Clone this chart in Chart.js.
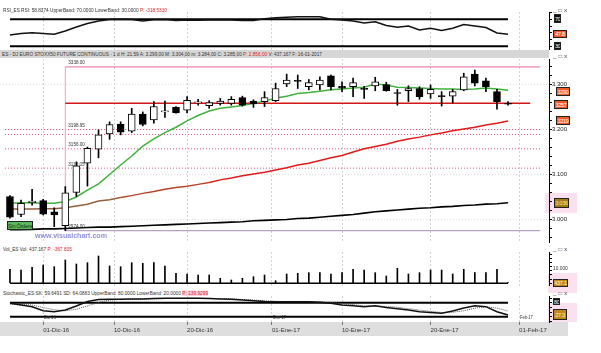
<!DOCTYPE html>
<html>
<head>
<meta charset="utf-8">
<script src="https://cdn.jsdelivr.net/npm/chart.js@4.4.1/dist/chart.umd.min.js"></script>
<style>
body { margin: 0; background: #fff; width: 601px; height: 353px; overflow: hidden; position: relative; font-family: "Liberation Sans", Arial, sans-serif; }
canvas { position: absolute; left: 0; }
.t { position: absolute; white-space: nowrap; font-size: 10px; line-height: 10px; transform-origin: 0 0; color: #333; }
.tag { position: absolute; border: 2px solid #222; box-sizing: border-box; font-size: 11px; text-align: center; transform: scale(0.5); transform-origin: 0 0; overflow: hidden; white-space: nowrap; letter-spacing: -0.5px; }
.band { position: absolute; }
.red { color: #e02020; }
</style>
</head>
<body>
<script>
// trading days shown on the chart
const dates = ['28-11-16','29-11-16','30-11-16','01-12-16','02-12-16','05-12-16','06-12-16','07-12-16','08-12-16','09-12-16',
  '12-12-16','13-12-16','14-12-16','15-12-16','16-12-16','19-12-16','20-12-16','21-12-16','22-12-16','23-12-16',
  '27-12-16','28-12-16','29-12-16','30-12-16','02-01-17','03-01-17','04-01-17','05-01-17','06-01-17','09-01-17',
  '10-01-17','11-01-17','12-01-17','13-01-17','16-01-17','17-01-17','18-01-17','19-01-17','20-01-17','23-01-17',
  '24-01-17','25-01-17','26-01-17','27-01-17','30-01-17','31-01-17'];

const openP  = [3050,3010,3036,3041,3016,2985,3059,3124,3155,3189,3211,3195,3233,3220,3238,3248,3242,3258,3252,3257,
  3257,3270,3262,3261,3263,3300,3308,3294,3298,3318,3295,3294,3289,3296,3299,3280,3285,3290,3278,3273,3273,3287,3322,3307,3283,3257];
const highP  = [3052,3042,3066,3044,3025,3072,3127,3160,3198,3216,3216,3246,3238,3261,3262,3250,3272,3266,3263,3268,
  3272,3273,3265,3283,3302,3322,3320,3310,3316,3320,3305,3313,3295,3315,3304,3288,3296,3294,3298,3283,3288,3324,3331,3313,3288,3261];
const lowP   = [3002,3005,3031,3009,2983,2974,3050,3073,3136,3177,3187,3192,3207,3213,3226,3235,3236,3253,3246,3253,
  3253,3251,3248,3250,3261,3294,3290,3287,3287,3287,3283,3272,3268,3285,3284,3253,3261,3266,3268,3251,3258,3285,3296,3283,3244,3253];
const closeP = [3004,3035,3040,3011,3009,3058,3118,3157,3187,3210,3193,3233,3210,3250,3240,3236,3264,3260,3259,3262,
  3266,3253,3256,3270,3290,3309,3306,3303,3309,3294,3291,3303,3288,3305,3285,3279,3290,3272,3288,3272,3283,3316,3302,3294,3261,3255];

const maShort = [3035,3036,3036,3035,3035,3039,3049,3064,3078,3099,3120,3140,3162,3178,3192,3204,3218,3230,3240,3246,
  3249,3252,3257,3262,3269,3273,3279,3281,3284,3287,3289,3291,3293,3300,3298,3293,3292,3291,3290,3289,3289,3288,3289,3291,3289,3286];
const maMid = [3022,3022,3022,3023,3023,3025,3029,3033,3040,3043,3048,3052,3057,3061,3066,3070,3073,3077,3081,3087,
  3091,3096,3100,3104,3109,3114,3120,3124,3130,3136,3141,3149,3156,3161,3166,3173,3178,3182,3187,3191,3196,3200,3204,3209,3213,3218];
const maLong = [2976,2976,2977,2978,2978,2979,2980,2981,2982,2982,2983,2984,2985,2986,2987,2988,2989,2990,2991,2992,
  2993,2994,2996,2997,2998,2999,3001,3002,3004,3006,3008,3010,3013,3016,3018,3020,3022,3024,3025,3027,3028,3030,3031,3033,3034,3036];

const volume = [838000,796000,958000,1096000,994000,1395000,1156000,1234000,1635000,1036000,994000,1234000,1198000,1234000,1036000,
  599000,557000,497000,497000,299000,198000,299000,395000,497000,156000,557000,599000,635000,635000,557000,
  635000,838000,796000,635000,437167,898000,557000,635000,796000,796000,557000,838000,635000,635000,838000,40000];

const rsi = [46.7,49.0,50.1,49.0,47.8,52.7,58.6,63.8,67.5,69.7,70.0,69.6,67.5,69.3,69.7,68.2,69.0,68.7,69.0,69.0,
  69.0,68.2,68.2,70.7,72.4,73.0,73.7,73.9,73.7,70.0,69.0,67.5,64.5,66.4,60.8,58.1,60.1,54.1,56.7,53.4,56.7,62.3,60.1,57.9,49.7,47.8];

const stochK = [77.4,70.1,62.9,45.7,41.4,48.7,65.9,85.1,93.7,94.6,95.0,95.9,95.9,98.0,98.9,98.9,98.9,98.9,98.0,95.9,
  94.6,91.6,88.1,85.1,84.3,84.3,84.3,83.9,81.7,77.9,70.1,66.7,62.9,66.7,59.6,54.3,48.7,41.4,38.0,34.6,44.4,57.3,67.1,62.9,41.4,27.3];
const stochD = [74.0,73.0,70.0,59.0,50.0,45.0,52.0,66.0,81.0,91.0,94.4,95.2,95.6,96.6,97.6,98.6,98.9,98.9,98.6,97.6,
  96.2,94.0,91.4,88.3,85.8,84.6,84.3,84.2,83.3,81.2,76.6,71.6,66.6,65.4,64.1,60.4,54.4,48.1,42.7,38.0,39.0,45.4,56.3,62.4,57.1,43.9];

const fibLevels = [3338, 3198.95, 3156, 3113.05, 2974];
const extraLevel = 3188;
const supportLevel = 3257;
const rsiBands = [70, 30];
const stochBands = [80, 20];

const dateTickPos = [3, 9.4, 16, 23.67, 30, 38, 46];
const dateTickLabels = ['01-Dic-16','10-Dic-16','20-Dic-16','01-Ene-17','10-Ene-17','20-Ene-17','01-Feb-17'];

// layout helpers
const X_MIN = -0.9, X_MAX = 48.7;
const FIB_START = 5, FIB_END = 47.9, RED_END = 47, LAST = dates.length - 1;

function rect(x, y, w, h, color) {
  const d = document.createElement('div');
  d.className = 'band';
  Object.assign(d.style, {left: x + 'px', top: y + 'px', width: w + 'px', height: h + 'px', background: color});
  document.body.appendChild(d);
}

function canvasAt(id, top, h) {
  const c = document.createElement('canvas');
  c.id = id; c.width = 601; c.height = h; c.style.top = top + 'px';
  document.body.appendChild(c);
  return c;
}

function label(html, x, yc, size, width, color, bold) {
  const d = document.createElement('div');
  d.className = 't';
  d.innerHTML = html;
  d.style.left = x + 'px';
  d.style.top = (yc - size / 2) + 'px';
  if (color) d.style.color = color;
  if (bold) d.style.fontWeight = 'bold';
  document.body.appendChild(d);
  const sy = size / 10;
  const sx = width ? width / d.offsetWidth : sy;
  d.style.transform = 'scale(' + sx + ',' + sy + ')';
}

function tag(text, x, y, w, h, bg, fg) {
  const d = document.createElement('div');
  d.className = 'tag';
  d.textContent = text;
  Object.assign(d.style, {left: x + 'px', top: y + 'px', width: w * 2 + 'px', height: h * 2 + 'px',
    lineHeight: (h * 2 - 4) + 'px', background: bg, color: fg});
  document.body.appendChild(d);
}

const pts = arr => arr.map((v, i) => ({x: i, y: v}));
const hline = (y, x0, x1) => [{x: x0, y: y}, {x: x1, y: y}];

function xScale(showLabels) {
  return {
    type: 'linear', min: X_MIN, max: X_MAX, offset: false,
    afterBuildTicks: s => { s.ticks = dateTickPos.map(v => ({value: v})); },
    grid: {color: '#d2d2d2', drawTicks: showLabels, tickLength: 3, tickColor: '#777', offset: false},
    border: {display: false, dash: [2, 2]},
    ticks: {display: showLabels, align: 'start', maxRotation: 0, autoSkip: false, padding: 2,
      font: {size: 6, family: 'Liberation Sans'}, color: '#333', callback: (v, i) => dateTickLabels[i]},
    afterFit: s => { s.height = showLabels ? 14 : 0; s.paddingLeft = 0; s.paddingRight = 0; }
  };
}

function yScale(min, max, step, labelFn, gridFn) {
  return {
    position: 'right', min: min, max: max,
    afterBuildTicks: s => {
      const t = [];
      for (let v = Math.ceil(min / step) * step; v <= max; v += step) t.push({value: v});
      s.ticks = t;
    },
    ticks: {autoSkip: false, padding: 0, font: {size: 6, family: 'Liberation Sans'}, color: '#222',
      callback: labelFn || (() => '')},
    grid: {drawOnChartArea: !!gridFn, color: gridFn || 'rgba(0,0,0,0)', tickLength: 3, tickColor: '#000'},
    border: {display: true, color: '#000', dash: [1, 2]},
    afterFit: s => { s.width = 52; s.paddingTop = 0; s.paddingBottom = 0; }
  };
}

const baseOptions = (scales) => ({
  responsive: false, animation: false, devicePixelRatio: 1, events: [],
  layout: {padding: 0},
  plugins: {legend: {display: false}, tooltip: {enabled: false}},
  elements: {point: {radius: 0}, line: {tension: 0}},
  scales: scales
});

// backgrounds
rect(0, 50, 549, 8, '#d6d6d6');
rect(0, 322, 568, 14, '#dedede');
rect(545, 193, 32, 20, '#fbe1f0');
rect(548, 273, 29, 20, '#fbe1f0');
rect(548, 303, 29, 19, '#fbe1f0');

// RSI panel
new Chart(canvasAt('cRsi', 12, 38), {
  type: 'line',
  data: {datasets: [
    {data: pts(rsi), borderColor: '#111', borderWidth: 1.5},
    {data: hline(rsiBands[0], 0, LAST), borderColor: '#000', borderWidth: 2},
    {data: hline(rsiBands[1], 0, LAST), borderColor: '#000', borderWidth: 2}
  ]},
  options: baseOptions({x: xScale(false), y: yScale(24.5, 80.8, 10)})
});

// price panel
const levelLabels = {
  id: 'levelLabels',
  afterDatasetsDraw(chart) {
    const {ctx, scales: {x, y}} = chart;
    ctx.save();
    ctx.font = '4.6px "Liberation Sans", Arial';
    ctx.fillStyle = '#333';
    ctx.textBaseline = 'bottom';
    fibLevels.forEach(v => ctx.fillText(v.toFixed(2), x.getPixelForValue(FIB_START) + 3, y.getPixelForValue(v) - 1.5));
    ctx.restore();
  }
};

const mainDatasets = [
  {type: 'bar', data: closeP.map((c, i) => ({x: i, y: [openP[i], c]})), grouped: false, barThickness: 7, minBarLength: 1,
    backgroundColor: closeP.map((c, i) => c >= openP[i] ? '#ffffff' : '#000000'),
    borderColor: '#000', borderWidth: 1, borderSkipped: false, order: 0},
  {type: 'bar', data: lowP.map((l, i) => ({x: i, y: [l, highP[i]]})), grouped: false, barThickness: 1,
    backgroundColor: '#000', borderWidth: 0, order: 1},
  {type: 'line', data: pts(maShort), borderColor: '#3fb23a', borderWidth: 1.5, order: 2},
  {type: 'line', data: pts(maMid), borderWidth: 1.5, order: 2, borderColor: '#e21a1a',
    segment: {borderColor: c => c.p0DataIndex < 10 ? '#93603a' : c.p0DataIndex < 18 ? '#b8442a' : '#e21a1a'}},
  {type: 'line', data: pts(maLong), borderColor: '#000', borderWidth: 1.6, order: 2},
  {type: 'line', data: hline(supportLevel, FIB_START, RED_END), borderColor: '#d41616', borderWidth: 1.5, order: 3},
  {type: 'line', data: hline(fibLevels[0], FIB_START, FIB_END), borderColor: '#e4679f', borderWidth: 1, order: 3},
  {type: 'line', data: hline(fibLevels[4], FIB_START, FIB_END), borderColor: '#a88ab4', borderWidth: 1, order: 3},
  {type: 'line', data: [{x: FIB_START, y: fibLevels[4]}, {x: FIB_START, y: fibLevels[0]}], borderColor: '#eaa2c8', borderWidth: 1, order: 3}
];
[fibLevels[1], extraLevel, fibLevels[2], fibLevels[3]].forEach(v => mainDatasets.push(
  {type: 'line', data: hline(v, -0.45, FIB_END), borderColor: '#e2558f', borderWidth: 1, borderDash: [1, 2], order: 3}));

new Chart(canvasAt('cMain', 59, 184), {
  type: 'bar',
  data: {datasets: mainDatasets},
  options: baseOptions({
    x: xScale(false),
    y: yScale(2946.7, 3355.6, 20, v => v % 100 === 0 ? (v / 1000).toFixed(3) : '',
      c => c.tick && c.tick.value % 100 === 0 ? '#dedede' : 'rgba(0,0,0,0)')
  }),
  plugins: [levelLabels]
});

// volume panel
new Chart(canvasAt('cVol', 252, 34), {
  type: 'bar',
  data: {datasets: [
    {type: 'bar', data: pts(volume), grouped: false, barThickness: 1, backgroundColor: '#000', borderWidth: 0},
    {type: 'line', data: hline(0, 0, LAST), borderColor: '#000', borderWidth: 1.5}
  ]},
  options: baseOptions({x: xScale(false), y: yScale(-162000, 1874000, 250000)})
});

// stochastic panel + date axis
new Chart(canvasAt('cSto', 296, 40), {
  type: 'line',
  data: {datasets: [
    {data: pts(stochK), borderColor: '#111', borderWidth: 1.5},
    {data: pts(stochD), borderColor: '#555', borderWidth: 1, borderDash: [1, 1]},
    {data: hline(stochBands[0], 0, LAST), borderColor: '#000', borderWidth: 2},
    {data: hline(stochBands[1], 0, LAST), borderColor: '#000', borderWidth: 2}
  ]},
  options: baseOptions({x: xScale(true), y: yScale(-2.7, 108.7, 20)})
});

// titles
label('RSI_ES RSI: 58.8374 UpperBand: 70.0000 LowerBand: 30.0000 <span class="red">P: -318.5310</span>', 3, 10, 5, 164);
label('ES - DJ EURO STOXX50 FUTURE CONTINUOUS - 1 d H: 21:59 A: 3.299,00 M: 3.304,00 m: 3.284,00 C: 3.285,00 <span class="red">P: 2.856,00</span> V: 437.167 F: 16-01-2017', 2, 54, 5, 320);
label('Vol_ES Vol: 437.167 <span class="red">P: -367.835</span>', 3, 249, 5, 69);
label('Stochastic_ES SK: 59.6491 SD: 64.0883 UpperBand: 80.0000 LowerBand: 20.0000 <span class="red" style="background:#fbd0e4">P: 139.9299</span>', 3, 293, 5, 205);

// window controls
[10, 56, 249.5, 293.5].forEach(y => label('_ &#9633; x', 553, y, 5, 14, '#444'));

// month markers in the stochastic panel
label('Dic-16', 44, 317, 5, 12);
label('Ene-17', 273, 317, 5, 13);
label('Feb-17', 520, 317, 5, 13);

// watermark and order status
label('www.visualchart.com', 35, 235, 7, 72, '#8f8fd6', true);
tag('Sin Órdenes', 7, 221, 26, 9, '#5cb85c', '#143414');

// right-side value tags
tag('70', 554, 14, 7, 9, '#111', '#fff');
tag('47.8', 553, 30, 14, 8, '#f05a28', '#fff');
tag('30', 554, 42, 7, 8, '#111', '#fff');
tag('3290', 556, 87, 14, 9, '#f05a28', '#fff');
tag('3257', 554, 100, 14, 9, '#f05a28', '#fff');
tag('3219', 556, 116, 14, 9, '#f05a28', '#fff');
tag('3.036', 554, 198, 15, 10, '#a37a14', '#ffe9a0');
label('10.000', 553, 268, 5, 15, '#333');
tag('437.1', 553, 279, 15, 8, '#c28a1e', '#fff3c0');
tag('80', 553, 298, 7, 7, '#111', '#fff');
tag('27.3', 553, 309, 14, 11, '#c28a1e', '#fff3c0');
</script>
</body>
</html>
